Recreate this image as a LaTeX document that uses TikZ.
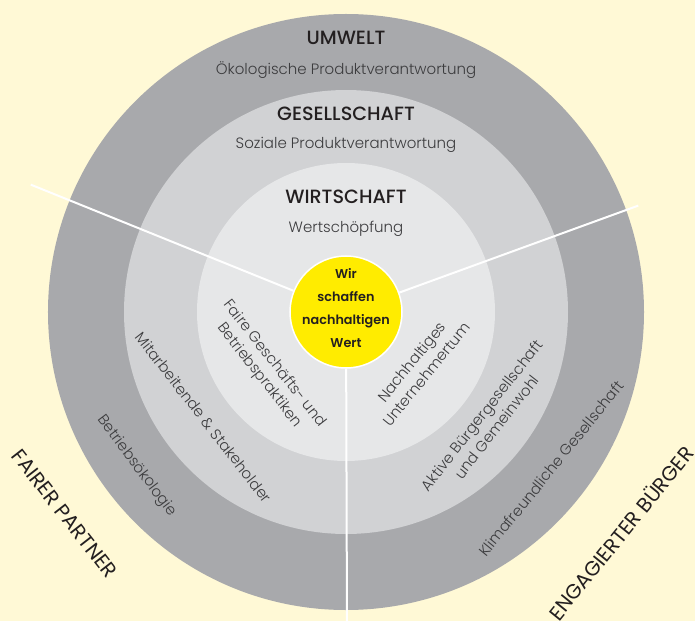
\documentclass[tikz,border=0pt]{standalone}
\usepackage{fontspec}
\setmainfont{Poppins}[UprightFont=* Light, BoldFont=* Medium]
\newfontfamily\regfont{Poppins}
\newfontfamily\demifont{Poppins}[UprightFont=* SemiBold]
\usepackage{tikz}
\usetikzlibrary{positioning}
\usepackage{xcolor}

\definecolor{bgyellow}{HTML}{FFF9D6}
\definecolor{outergray}{HTML}{A8A9AC}
\definecolor{midgray}{HTML}{D1D2D4}
\definecolor{innergray}{HTML}{E6E7E8}
\definecolor{coreyellow}{HTML}{FFEC00}
\definecolor{headtext}{HTML}{231F20}
\definecolor{subtext}{HTML}{3C3C3E}

\begin{document}
\begin{tikzpicture}[x=1pt,y=1pt,
    heading/.style={text=headtext, font=\bfseries\fontsize{19.2}{21}\selectfont},
    subline/.style={text=subtext, font=\fontsize{15}{19}\selectfont, align=center},
    sector/.style={text=subtext, font=\fontsize{15}{19}\selectfont, align=center},
    outside/.style={text=headtext, font=\regfont\fontsize{20.5}{22}\selectfont},
    core/.style={circle, fill=coreyellow, draw=white, line width=1.5pt,
        minimum size=112pt, inner sep=0pt},
    coretext/.style={align=center, text=headtext, inner sep=0pt,
        font=\demifont\fontsize{12.8}{22.7}\selectfont},
    divider/.style={draw=white, line width=2pt}]
    % Background
    \fill[bgyellow] (-346,-309) rectangle (349,312);
    \useasboundingbox (-346,-309) rectangle (349,312);

    % Rings
    \fill[outergray] (0,0) circle (298);
    \fill[midgray] (0,0) circle (222);
    \fill[innergray] (0,0) circle (149);

    % Core
    \node[core] (core) at (0,0) {};
    \node[coretext] (wir) at (0,4) {Wir\\schaffen\\nachhaltigen\\Wert};

    % Dividers
    \coordinate (leftend) at (158:340);
    \coordinate (rightend) at (20:311);
    \coordinate (bottomend) at (1,-320);
    \draw[divider] (core) -- (leftend);
    \draw[divider] (core) -- (rightend);
    \draw[divider] (core) -- (bottomend);

    % Ring titles
    \node[heading] (umwelt) at (0,274) {UMWELT};
    \node[subline] (oeko) at (0,242) {Ökologische Produktverantwortung};
    \node[heading] (gesell) at (0,198) {GESELLSCHAFT};
    \node[subline] (sozial) at (0,167) {Soziale Produktverantwortung};
    \node[heading] (wirt) at (0,115) {WIRTSCHAFT};
    \node[subline] (wert) at (0,83) {Wertschöpfung};

    % Left sector
    \node[sector, rotate=-52] (faire) at (216:98) {Faire Geschäfts- und\\Betriebspraktiken};
    \node[sector, rotate=-52] (mitarb) at (216.5:177) {Mitarbeitende \& Stakeholder};
    \node[sector, rotate=-53] (betrieb) at (216.4:260) {Betriebsökologie};
    \node[outside, rotate=-52] (fairer) at (215.6:346) {FAIRER PARTNER};

    % Right sector
    \node[sector, rotate=51] (nachh) at (-37.5:92) {Nachhaltiges\\Unternehmertum};
    \node[sector, rotate=52] (aktiv) at (-37.3:180) {Aktive Bürgergesellschaft\\und Gemeinwohl};
    \node[sector, rotate=51] (klima) at (-37.4:258) {Klimafreundliche Gesellschaft};
    \node[outside, rotate=51] (engag) at (-38.8:352) {ENGAGIERTER BÜRGER};
\end{tikzpicture}
\end{document}
